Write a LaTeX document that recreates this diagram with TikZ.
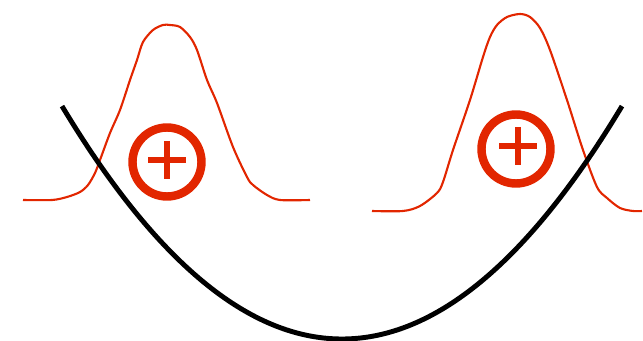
\documentclass[tikz,border=0pt]{standalone}
\usetikzlibrary{calc}

\definecolor{plusred}{RGB}{226,38,0}

\newcommand*{\wellx}{342}
\newcommand*{\welly}{339}
\newcommand*{\wellk}{0.0545}

\begin{document}
\begin{tikzpicture}
[
	x=0.02cm, y=-0.02cm,
	bump/.style={plusred, line width=1.2pt, smooth, tension=0.5},
	ring/.style={circle,draw=plusred,line width=4.8pt,inner sep=0pt,minimum size=1.38cm},
	plusbar/.style={plusred, line width=3.4pt},
	well/.style={black, line width=2.8pt}
]
	\useasboundingbox (0,0) rectangle (643,341);

	% bumps
	\draw[bump] plot coordinates {(23,200) (52,200) (67,197) (80,192) (88,185) (95,173) (100,160) (110,133) (120,110) (130,80) (137,60) (143,42) (153,30) (163,25) (170,25) (180,27) (190,37) (197,50) (207,80) (217,103) (233,147) (247,177) (253,185) (267,195) (280,200) (310,200)};
	\draw[bump] plot coordinates {(372,211) (403,211) (420,206) (437,193) (443,182) (453,150) (470,100) (483,57) (490,37) (497,25) (507,17) (520,14) (530,17) (540,28) (550,50) (567,100) (583,150) (597,187) (607,198) (620,208) (633,211) (642,211)};

	% well
	\draw[well, domain=62:622, samples=120, smooth] plot (\x,{\welly - (\wellk*(\x-\wellx))^2});

	% charges
	\node[ring] at (167,162) (ringL) {};
	\draw[plusbar] ($(ringL)+(-19,-2)$) -- ($(ringL)+(19,-2)$);
	\draw[plusbar] ($(ringL)+(0,-21)$) -- ($(ringL)+(0,17)$);

	\node[ring] at (516,149) (ringR) {};
	\draw[plusbar] ($(ringR)+(-17,-3)$) -- ($(ringR)+(21,-3)$);
	\draw[plusbar] ($(ringR)+(2,-22)$) -- ($(ringR)+(2,16)$);

\end{tikzpicture}
\end{document}
